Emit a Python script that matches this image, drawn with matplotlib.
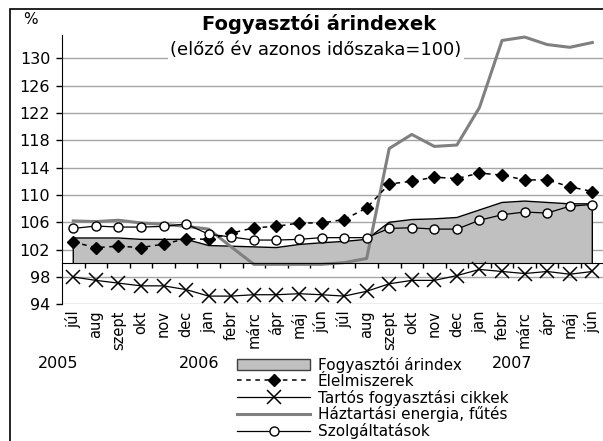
import numpy as np

import matplotlib
matplotlib.use("Agg")
import matplotlib.pyplot as plt
from matplotlib.patches import Patch, Rectangle

plt.rcParams["font.family"] = ["DejaVu Sans"]

months = ["júl", "aug", "szept", "okt", "nov", "dec",
          "jan", "febr", "márc", "ápr", "máj", "jún",
          "júl", "aug", "szept", "okt", "nov", "dec",
          "jan", "febr", "márc", "ápr", "máj", "jún"]
years = ["2005", "2006", "2007"]

# fogyasztói árindex (area)
cpi = [103.7, 103.7, 103.7, 103.5, 103.5, 103.5, 102.6, 102.5, 102.4, 102.3, 102.75, 103.0,
       103.2, 103.5, 106.0, 106.4, 106.5, 106.7, 107.8, 108.9, 109.1, 108.9, 108.7, 108.7]
food = [103.1, 102.3, 102.5, 102.3, 102.8, 103.6, 103.5, 104.4, 105.2, 105.4, 105.9, 105.9,
        106.4, 108.1, 111.6, 112.0, 112.6, 112.4, 113.2, 112.9, 112.2, 112.2, 111.2, 110.5]
durable = [98.0, 97.5, 97.1, 96.7, 96.7, 96.15, 95.2, 95.2, 95.4, 95.4, 95.55, 95.4,
           95.2, 95.9, 97.0, 97.5, 97.5, 98.2, 99.1, 98.8, 98.5, 98.8, 98.4, 98.8]
energy = [106.2, 106.1, 106.3, 105.9, 105.7, 105.4, 105.0, 102.4, 99.85, 99.85, 99.85, 99.85,
          100.1, 100.7, 116.8, 118.85, 117.1, 117.3, 122.8, 132.6, 133.1, 132.0, 131.6, 132.3]
services = [105.1, 105.45, 105.3, 105.3, 105.4, 105.75, 104.25, 103.85, 103.4, 103.4, 103.5, 103.75,
            103.75, 103.75, 105.1, 105.2, 105.0, 105.0, 106.3, 107.1, 107.5, 107.35, 108.35, 108.6]

labels = ["Fogyasztói árindex", "Élelmiszerek", "Tartós fogyasztási cikkek",
          "Háztartási energia, fűtés", "Szolgáltatások"]

W, H = 603, 441
fig = plt.figure(figsize=(W / 100, H / 100), dpi=100)
ax = fig.add_axes([62 / W, (H - 304.3) / H, (603.6 - 62) / W, (304.3 - 35) / H])

x = np.arange(len(months))

ax.fill_between(x, 100, cpi, color="#c0c0c0", linewidth=0, zorder=2)
ax.plot(np.r_[x[0], x, x[-1]], np.r_[100, cpi, 100], color="black", lw=1.0, zorder=2.5)

ax.plot(x, energy, color="#808080", lw=2.2, zorder=3)
l_food, = ax.plot(x, food, color="black", lw=1.1, linestyle=(0, (3, 3)),
                  marker="D", markersize=6.5, zorder=4)
l_dur, = ax.plot(x, durable, color="black", lw=0.9, marker="x", markersize=10,
                 markeredgewidth=1.1, zorder=4)
l_en, = ax.plot([], [], color="#808080", lw=2.2)
l_serv, = ax.plot(x, services, color="black", lw=0.9, marker="o", markersize=6.5,
                  markerfacecolor="white", markeredgecolor="black", markeredgewidth=1.0, zorder=5)

ax.set_xlim(-0.5, 23.5)
ax.set_ylim(94, 133.4)

ax.spines["top"].set_visible(False)
ax.spines["right"].set_visible(False)
ax.spines["bottom"].set_position(("data", 100))
ax.spines["bottom"].set_zorder(6)

ax.set_yticks(range(94, 131, 4))
ax.yaxis.grid(True, color="#a6a6a6", lw=1)
ax.set_axisbelow(True)
ax.tick_params(axis="y", direction="out", length=4.5, width=1, pad=4, labelsize=11.5)

ax.set_xticks(x)
ax.set_xticklabels(months, rotation=90)
ax.tick_params(axis="x", which="major", length=0, pad=34, labelsize=10.5)
ax.set_xticks(x[:-1] + 0.5, minor=True)
ax.tick_params(axis="x", which="minor", direction="inout", length=7, width=1)

fig.text(30 / W, 1 - 20 / H, "%", ha="center", va="center", fontsize=11)
fig.text(319 / W, 1 - 24 / H, "Fogyasztói árindexek", ha="center", va="center",
         fontsize=14, fontweight="bold",
         bbox=dict(facecolor="white", edgecolor="none", pad=1))
fig.text(316 / W, 1 - 50 / H, "(előző év azonos időszaka=100)", ha="center", va="center",
         fontsize=13, bbox=dict(facecolor="white", edgecolor="none", pad=2))

for label, px in zip(years, [58, 199, 512]):
    fig.text(px / W, 1 - 363 / H, label, ha="center", va="center", fontsize=11.5)

handles = [Patch(facecolor="#c0c0c0", edgecolor="#404040"), l_food, l_dur, l_en, l_serv]
ax.legend(handles, labels, loc="upper left", bbox_to_anchor=(237 / W, 1 - 357 / H),
          bbox_transform=fig.transFigure, frameon=False, fontsize=11,
          handlelength=4.8, handletextpad=0.5, labelspacing=0.05,
          borderpad=0, borderaxespad=0, numpoints=1)

fig.add_artist(Rectangle((10 / W, -0.1), 1.2, 1.1 - 9 / H, transform=fig.transFigure,
                         fill=False, edgecolor="black", lw=1.2))

fig.savefig("out.png", dpi=100)
